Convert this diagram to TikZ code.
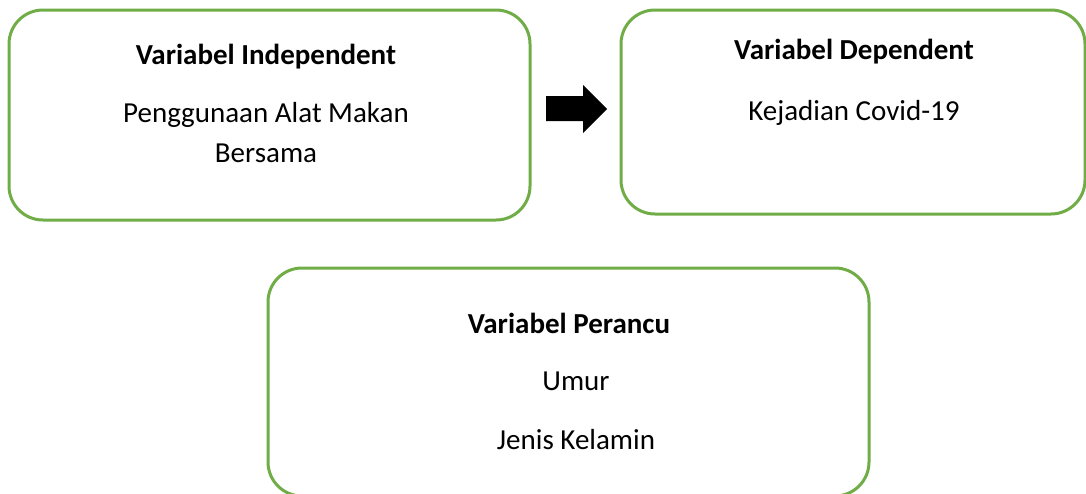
\documentclass[tikz,border=0pt]{standalone}
\usepackage{fontspec}
\setmainfont{Carlito}
\definecolor{boxgreen}{HTML}{70AD47}
\tikzset{
  varbox/.style={draw=boxgreen, line width=1.5pt, rounded corners=17pt, inner sep=0pt},
  txt/.style={anchor=base, inner sep=0pt, font=\fontsize{14.5}{17.5}\selectfont}
}
\begin{document}
\begin{tikzpicture}[x=0.5pt, y=-0.5pt]
    \useasboundingbox (0,0) rectangle (1086,493);

    % boxes
    \node [varbox, minimum width=260.5pt, minimum height=105pt] (indep) at (269.5,115) {};
    \node [varbox, minimum width=232pt, minimum height=102pt] (dep) at (853,112) {};
    \begin{scope}
        \clip (0,0) rectangle (1086,493);
        \node [varbox, minimum width=300.5pt, minimum height=114pt] (perancu) at (568.5,382) {};
    \end{scope}

    % texts
    \node [txt, font=\fontsize{14.5}{17.5}\selectfont\bfseries] (indeptitle) at (266,64) {Variabel Independent};
    \node [txt] (indepa) at (266,122) {Penggunaan Alat Makan};
    \node [txt] (indepb) at (266,162) {Bersama};

    \node [txt, font=\fontsize{14.5}{17.5}\selectfont\bfseries] (deptitle) at (854,59) {Variabel Dependent};
    \node [txt] (depa) at (854,120) {Kejadian Covid-19};

    \node [txt, font=\fontsize{14.5}{17.5}\selectfont\bfseries] (pertitle) at (569,333) {Variabel Perancu};
    \node [txt] (pera) at (576,390) {Umur};
    \node [txt] (perb) at (576,449) {Jenis Kelamin};

    % arrow
    \fill [black] (546,96) -- (583,96) -- (583,85) -- (607,109) -- (583,133) -- (583,121) -- (546,121) -- cycle;
\end{tikzpicture}
\end{document}
